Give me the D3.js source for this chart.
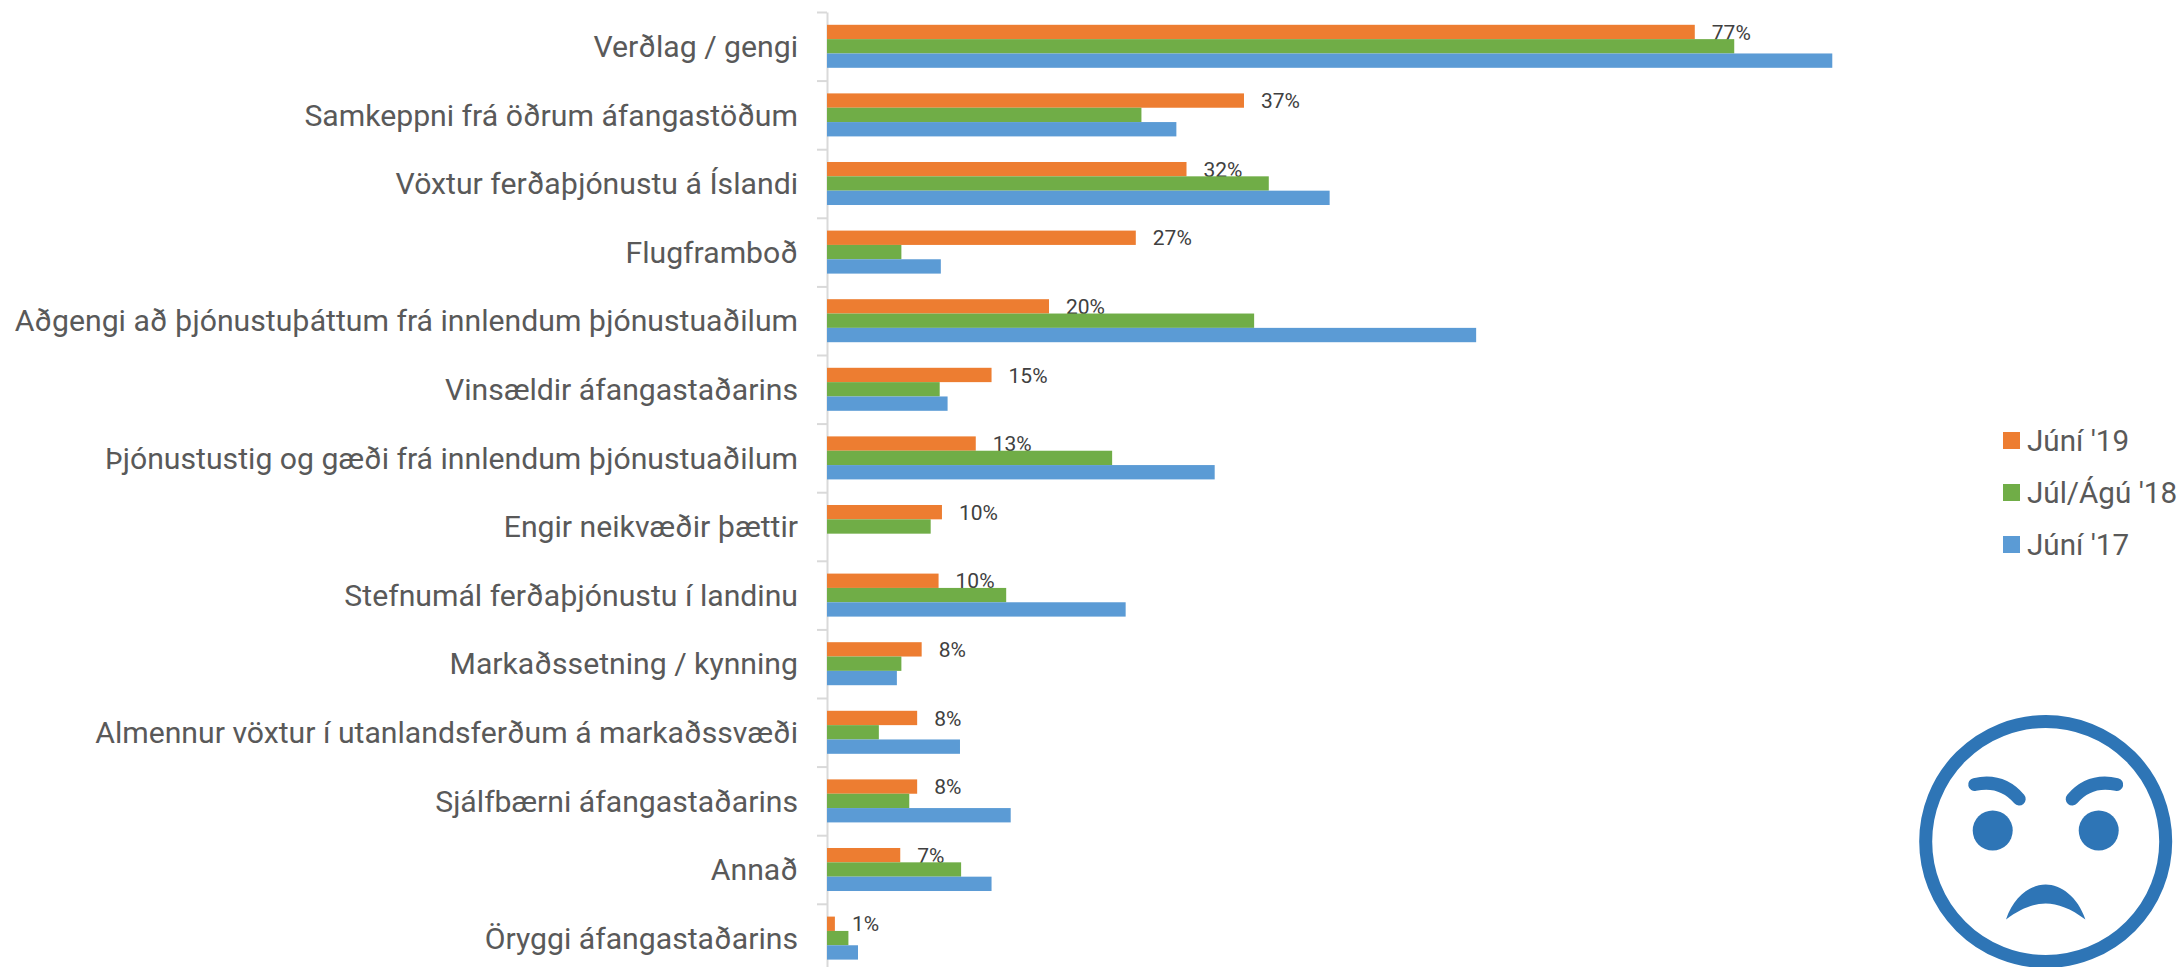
<!DOCTYPE html>
<html><head><meta charset="utf-8">
<script src="https://cdn.jsdelivr.net/npm/d3@7"></script>
<style>html,body{margin:0;padding:0;background:#fff;overflow:hidden}svg{display:block}text{font-family:Roboto,sans-serif}</style>
</head><body>
<svg id="c" width="2183" height="967"></svg>
<script>
const categories=["Verðlag / gengi","Samkeppni frá öðrum áfangastöðum","Vöxtur ferðaþjónustu á Íslandi","Flugframboð","Aðgengi að þjónustuþáttum frá innlendum þjónustuaðilum","Vinsældir áfangastaðarins","Þjónustustig og gæði frá innlendum þjónustuaðilum","Engir neikvæðir þættir","Stefnumál ferðaþjónustu í landinu","Markaðssetning / kynning","Almennur vöxtur í utanlandsferðum á markaðssvæði","Sjálfbærni áfangastaðarins","Annað","Öryggi áfangastaðarins"];
const seriesNames=["Júní '19","Júl/Ágú '18","Júní '17"];
const colors=["#ED7D31","#70AD47","#5B9BD5"];
const juni19=[77,37,31.9,27.4,19.7,14.6,13.2,10.2,9.9,8.4,8,8,6.5,0.7];
const julAgu18=[80.5,27.9,39.2,6.6,37.9,10,25.3,9.2,15.9,6.6,4.6,7.3,11.9,1.9];
const juni17=[89.2,31,44.6,10.1,57.6,10.7,34.4,null,26.5,6.2,11.8,16.3,14.6,2.75];
const labels=["77%","37%","32%","27%","20%","15%","13%","10%","10%","8%","8%","8%","7%","1%"];
const series=[juni19,julAgu18,juni17];

const svg=d3.select("#c");
const x=d3.scaleLinear().domain([0,100]).range([827,1954]);
const plotTop=12,step=68.6;
const y=d3.scaleBand().domain(categories).range([plotTop,plotTop+step*categories.length]).paddingInner(0.373).paddingOuter(0.1865);
const inner=d3.scaleBand().domain([0,1,2]).range([0,y.bandwidth()]);
const tickScale=d3.scaleLinear().domain([0,categories.length]).range([plotTop,plotTop+step*categories.length]);

// category labels
const ax=d3.axisLeft(y).tickSize(0).tickPadding(29);
const gA=svg.append("g").attr("transform",`translate(${x(0)},1)`).call(ax);
gA.select(".domain").remove();
gA.selectAll("text").attr("fill","#595959").style("font-size","30.2px").style("font-family","Roboto,sans-serif");

// axis line and tick marks between categories
const ax2=d3.axisLeft(tickScale).tickValues(d3.range(0,categories.length+1)).tickSize(10).tickSizeOuter(0).tickFormat("");
const gT=svg.append("g").attr("transform",`translate(${x(0)},0)`).call(ax2);
gT.selectAll("line,path").attr("stroke","#D9D9D9").attr("stroke-width",2);

// data labels sit under the bars, as in the reference
svg.append("g").selectAll("text").data(juni19).join("text")
 .attr("x",d=>x(d)+17).attr("y",(d,i)=>y(categories[i])+inner(0)+inner.bandwidth()/2)
 .attr("dy","0.36em").attr("fill","#404040").style("font-size","21px").text((d,i)=>labels[i]);

// bars
series.forEach((vals,s)=>{
 svg.append("g").attr("fill",colors[s]).selectAll("rect").data(vals.map((v,i)=>({v,i})).filter(d=>d.v!=null)).join("rect")
  .attr("x",x(0)).attr("y",d=>y(categories[d.i])+inner(s)).attr("width",d=>x(d.v)-x(0)).attr("height",inner.bandwidth());
});

// legend
const lg=svg.append("g").selectAll("g").data(seriesNames).join("g").attr("transform",(d,i)=>`translate(2003,${432+i*52})`);
lg.append("rect").attr("width",17).attr("height",17).attr("fill",(d,i)=>colors[i]);
lg.append("text").attr("x",24).attr("y",8.5).attr("dy","0.36em").attr("fill","#595959").style("font-size","29.6px").text(d=>d);

// face icon
const blue="#2E75B6";
const f=svg.append("g").attr("transform","translate(2045.7,841.5)");
f.append("circle").attr("r",120).attr("fill","none").attr("stroke",blue).attr("stroke-width",13);
[-1,1].forEach(k=>{
 f.append("circle").attr("cx",k*53).attr("cy",-11).attr("r",20).attr("fill",blue);
 f.append("path").attr("d",`M${k*71},-57 Q${k*44},-63 ${k*26.5},-42.5`).attr("fill","none").attr("stroke",blue).attr("stroke-width",13).attr("stroke-linecap","round");
});
f.append("path").attr("d","M-39.7,78 C-32,55 -15,43 0,43 C15,43 32,55 39.7,78 C25,67 12,62 0,62 C-12,62 -25,67 -39.7,78Z").attr("fill",blue);
</script>
</body></html>
